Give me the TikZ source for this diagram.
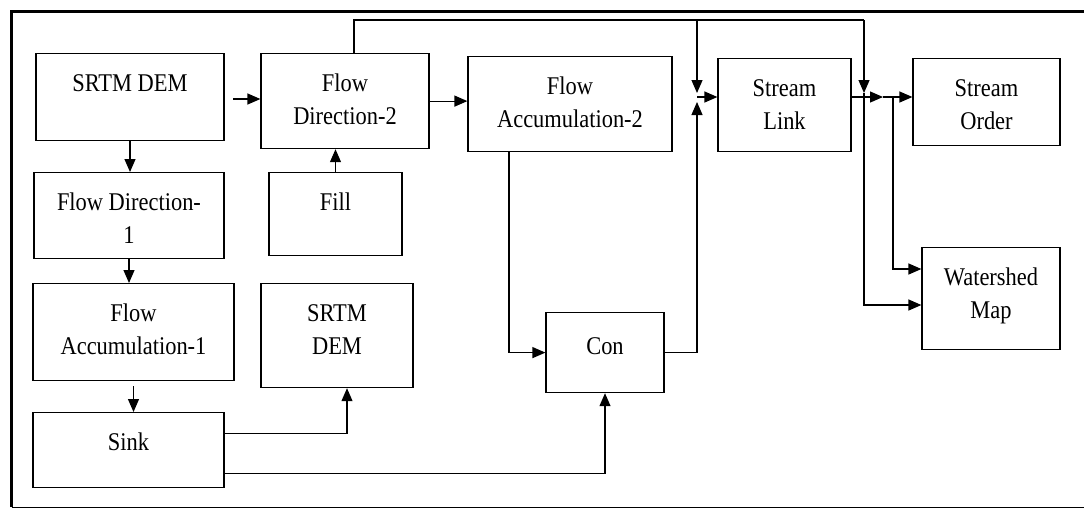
\documentclass[tikz,border=0pt]{standalone}
\usepackage{fontspec}
\setmainfont{Liberation Serif}[FakeStretch=0.88]
\usetikzlibrary{arrows.meta, positioning, calc}
\tikzset{
  blk/.style = {draw, line width=1.2pt, align=center, inner xsep=0pt,
      inner ysep=0pt, anchor=north, text height=38pt,
      font=\fontsize{25.5}{33}\selectfont},
  two/.style = {text height=71pt}, % second line sets the baseline
  flow/.style = {line width=1.2pt, -{Triangle[length=13pt, width=11pt]}},
  wire/.style = {line width=1.2pt},
}
\begin{document}
\begin{tikzpicture}[x=1pt, y=-1pt]
  \useasboundingbox (0,0) rectangle (1084,509);
  % frame
  \draw[line width=3.5pt] (11.5,507) |- (1084,11.5);
  \draw[line width=1pt] (11.5,507.5) -- (1084,507.5);

  \node[blk, minimum width=188pt, text depth=49pt] (dem) at (130,53) {SRTM DEM};
  \node[blk, two, minimum width=168pt, text depth=24pt] (fdtwo) at (345,53) {Flow\\Direction-2};
  \node[blk, minimum width=133pt, text depth=45pt] (fill) at (335.5,172) {Fill};
  \node[blk, two, minimum width=190pt, text depth=15pt] (fdone) at (129,172) {Flow Direction-\\1};
  \node[blk, two, minimum width=201pt, text depth=26pt] (faone) at (133.5,283) {Flow\\Accumulation-1};
  \node[blk, two, minimum width=152pt, text depth=33pt] (demb) at (337,283) {SRTM\\DEM};
  \node[blk, minimum width=191pt, text depth=37pt] (sink) at (128.5,412) {Sink};
  \node[blk, two, minimum width=204pt, text depth=24pt] (fatwo) at (570,56) {Flow\\Accumulation-2};
  \node[blk, minimum width=118pt, text depth=38pt, text height=42pt] (con) at (605,312) {Con};
  \node[blk, two, minimum width=133pt, text depth=22pt] (link) at (784.5,58) {Stream\\Link};
  \node[blk, two, minimum width=147pt, text depth=16pt] (order) at (986.5,58) {Stream\\Order};
  \node[blk, two, minimum width=138pt, text depth=31pt] (shed) at (991,247) {Watershed\\Map};

  \coordinate (demout) at (233,99);
  \coordinate (rail) at (354,20);
  \coordinate (jl) at (697,97);
  \coordinate (jr) at (864,97);
  \coordinate (jo) at (893,97);
  \coordinate (jt) at (883,97);

  \draw[flow] (demout) -- (demout -| fdtwo.west);
  \draw[flow] (dem.south) -- (dem.south |- fdone.north);
  \draw[flow] (fill.north) -- (fill.north |- fdtwo.south);
  \draw[flow] (fdone.south) -- (fdone.south |- faone.north);
  \draw[flow] ([yshift=-5pt]faone.south) -- (faone.south |- sink.north);
  \draw[flow] ([yshift=17pt]sink.east) -| ([xshift=10pt]demb.south);
  \draw[flow] ([yshift=-23pt]sink.east) -| (con.south);
  \draw[flow] (fdtwo.east) -- (fdtwo.east -| fatwo.west);
  \draw[flow] ([xshift=-61pt]fatwo.south) |- (con.west);

  % top rail
  \draw[wire] (rail |- fdtwo.north) -- (rail) -- (rail -| jr);
  \draw[flow] (rail -| jl) -- ([yshift=4pt]jl);
  \draw[flow] (rail -| jr) -- ([yshift=4pt]jr);
  \draw[flow] ([yshift=-8pt]jr) |- ([yshift=-208pt]jr -| shed.west);
  \draw[wire] ([yshift=4pt]jr) -- ([yshift=-8pt]jr);

  \draw[flow] (con.east) -| ([yshift=-5pt]jl);
  \draw[flow] (jl) -- (jl -| link.west);
  \draw[flow] (jl -| link.east) -- (jt);
  \draw[wire] (jt) -- (jo);
  \draw[flow] (jo) -- (jo -| order.west);
  \draw[flow] (jo) |- ([yshift=-172pt]jo -| shed.west);
\end{tikzpicture}
\end{document}
